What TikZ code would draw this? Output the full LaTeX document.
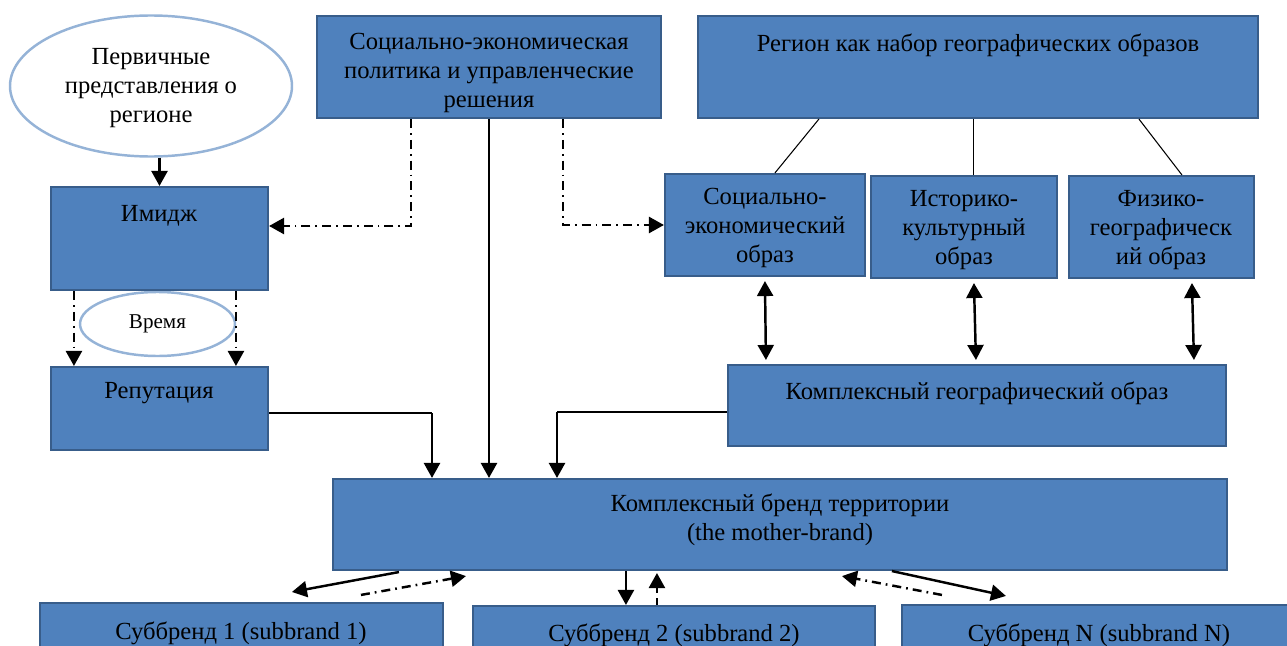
\documentclass[tikz,border=0pt]{standalone}
\usepackage{fontspec}
\setmainfont{Liberation Serif}
\usepackage{xcolor}
\usetikzlibrary{arrows.meta,calc,positioning,fit,shapes.geometric}
\definecolor{boxfill}{HTML}{4F81BD}
\definecolor{boxline}{HTML}{385D8A}
\definecolor{ovalline}{HTML}{95B3D7}

\begin{document}
\begin{tikzpicture}[x=0.2mm,y=-0.2mm,
    box/.style={draw=boxline, fill=boxfill, line width=1.2pt, inner sep=0pt},
    oval/.style={ellipse, draw=ovalline, fill=white, line width=1.4pt, inner sep=0pt},
    txt/.style={align=center, inner sep=0pt, font=\fontsize{14}{16.5}\selectfont},
    arr/.style={-{Triangle[length=3mm,width=3.2mm]}, line width=1.4pt},
    darr/.style={{Triangle[length=3mm,width=3.2mm]}-{Triangle[length=3mm,width=3.2mm]}, line width=1.4pt},
    dd/.style={arr, dash pattern=on 1.8mm off 1mm on 0.35mm off 1mm},
    dsh/.style={arr, dash pattern=on 1.4mm off 1mm},
    thinln/.style={line width=0.6pt}]
  \clip (0,0) rectangle (1287,646);

  % ovals
  \node[oval, minimum width=56.4mm, minimum height=28.2mm] (perv) at (151,86) {};
  \node[txt] at (151,88) {Первичные\\представления о\\регионе};
  \node[oval, minimum width=31mm, minimum height=12.8mm] (time) at (157.5,324) {};
  \node[txt, font=\fontsize{12}{14}\selectfont] at (time) {Время};

  % boxes
  \node[box, fit={(317,16) (661,118)}] (pol) {};
  \node[box, fit={(698,16) (1258,118)}] (reg) {};
  \node[box, fit={(665,174) (865,276)}] (soc) {};
  \node[box, fit={(871,176) (1057,278)}] (ist) {};
  \node[box, fit={(1069,176) (1254,278)}] (fiz) {};
  \node[box, fit={(51,187) (268,290)}] (img) {};
  \node[box, fit={(51,367) (268,450)}] (rep) {};
  \node[box, fit={(728,365) (1226,446)}] (geo) {};
  \node[box, fit={(333,479) (1227,570)}] (brand) {};
  \node[box, fit={(40,603) (443,670)}] (sub1) {};
  \node[box, fit={(473,606) (875,670)}] (sub2) {};
  \node[box, fit={(902,605) (1300,670)}] (subN) {};

  % texts
  \node[txt] at (489,73) {Социально-экономическая\\политика и управленческие\\решения};
  \node[txt] at (978,45) {Регион как набор географических образов};
  \node[txt] at (765,228) {Социально-\\экономический\\образ};
  \node[txt] at (964,230) {Историко-\\культурный\\образ};
  \node[txt] at (1161,230) {Физико-\\географическ\\ий образ};
  \node[txt] at (159,216) {Имидж};
  \node[txt] at (159,393) {Репутация};
  \node[txt] at (977,393) {Комплексный географический образ};
  \node[txt] at (780,520) {Комплексный бренд территории\\(the mother-brand)};
  \node[txt] at (241,633) {Суббренд 1 (subbrand 1)};
  \node[txt] at (674,635) {Суббренд 2 (subbrand 2)};
  \node[txt] at (1099,635) {Суббренд N (subbrand N)};

  % region and its images
  \draw[thinln] ($(reg.south west)+(122,0)$) -- ($(soc.north west)+(111,0)$);
  \draw[thinln] ($(reg.south west)+(277,0)$) -- ($(ist.north west)+(104,0)$);
  \draw[thinln] ($(reg.south west)+(442,0)$) -- ($(fiz.north west)+(114,0)$);
  \draw[darr] ($(soc.south west)+(101,4)$) -- ($(geo.north west)+(39,-4)$);
  \draw[darr] ($(ist.south west)+(104,4)$) -- ($(geo.north west)+(249,-4)$);
  \draw[darr] ($(fiz.south west)+(124,4)$) -- ($(geo.north west)+(467,-4)$);

  % image and reputation
  \draw[arr] (perv.south -| img.north) -- (img.north);
  \draw[dd] ($(img.south west)+(24,0)$) -- ($(rep.north west)+(24,0)$);
  \draw[dd] ($(img.south west)+(186,0)$) -- ($(rep.north west)+(186,0)$);

  % policy
  \coordinate (dl) at (411,226);
  \coordinate (dr) at (563,225);
  \draw[dd] (pol.south -| dl) |- (img.east |- dl);
  \draw[dd] (pol.south -| dr) |- (soc.west |- dr);
  \draw[arr] (pol.south) -- (pol.south |- brand.north);

  % into the brand
  \coordinate (rk) at (432,413);
  \coordinate (gk) at (557,412);
  \draw[thinln] (rep.east |- rk) -- (rk);
  \draw[arr] (rk) -- (rk |- brand.north);
  \draw[thinln] (geo.west |- gk) -- (gk);
  \draw[arr] (gk) -- (gk |- brand.north);

  % subbrands
  \draw[arr] ($(brand.south west)+(67,1)$) -- ($(sub1.north west)+(253,-10)$);
  \draw[dd] ($(sub1.north west)+(322,-7)$) -- ($(brand.south west)+(134,5)$);
  \draw[arr] ($(brand.south west)+(294,0)$) -- ($(sub2.north west)+(154,0)$);
  \draw[dsh] ($(sub2.north west)+(185,0)$) -- ($(brand.south west)+(325,2)$);
  \draw[dd] ($(subN.north west)+(41,-9)$) -- ($(brand.south west)+(510,5)$);
  \draw[arr] ($(brand.south west)+(560,0)$) -- ($(subN.north west)+(105,-8)$);
\end{tikzpicture}
\end{document}
